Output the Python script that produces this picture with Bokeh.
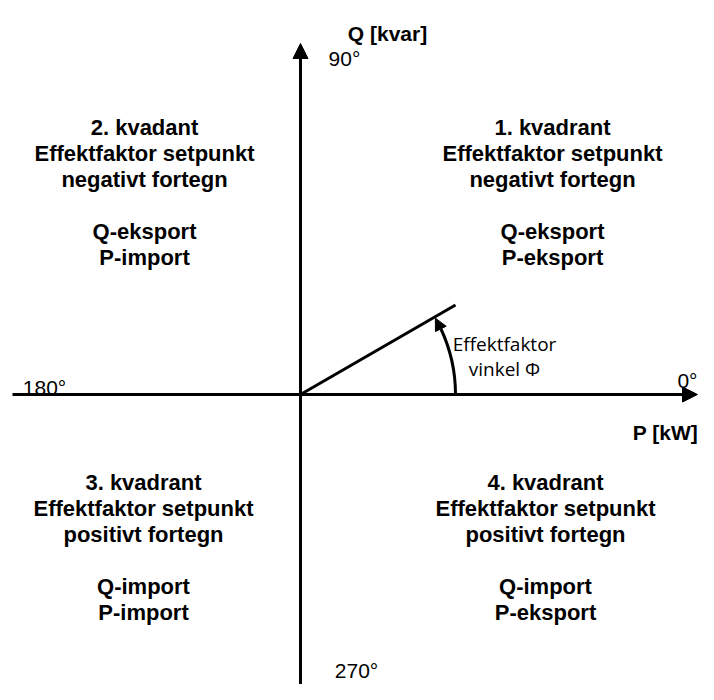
import numpy as np
from bokeh.plotting import figure
from bokeh.models import Range1d, ColumnDataSource, Arrow, NormalHead
from bokeh.core.properties import value
from bokeh.embed import file_html
from bokeh.resources import INLINE

# --- diagram content (units: px from origin, y up) ---
quadrant_names = ["1. kvadrant", "2. kvadant", "3. kvadrant", "4. kvadrant"]
quadrant_sign = ["negativt fortegn", "negativt fortegn", "positivt fortegn", "positivt fortegn"]
quadrant_q = ["Q-eksport", "Q-eksport", "Q-import", "Q-import"]
quadrant_p = ["P-eksport", "P-import", "P-import", "P-eksport"]
quadrant_cx = [252, -156, -157, 245]
quadrant_top = [267, 267, -88, -88]

angle_labels = ["0°", "90°", "180°", "270°"]
angle_x = [397, 44, -256, 56]
angle_y = [14, 336, 7, -276]
angle_align = ["right", "center", "center", "center"]

axis_labels = ["P [kW]", "Q [kvar]"]
axis_lx = [365, 87]
axis_ly = [-38, 361]

vector_len = 179.0
vector_angle_deg = 30.0
arc_radius = 155.0
arc_end_deg = 24.0
arc_tip_deg = 29.5

phi_lines = ["Effektfaktor", "vinkel Φ"]
phi_x = 204
phi_y = [51, 26]

p = figure(width=698, height=684, output_backend="svg", toolbar_location=None,
           x_range=Range1d(-300, 398), y_range=Range1d(-290, 394),
           min_border=0)
p.axis.visible = False
p.grid.visible = False
p.outline_line_color = None
p.background_fill_color = "white"

# axes with arrows
p.add_layout(Arrow(x_start=-288, y_start=0, x_end=397, y_end=0, line_width=3, line_color="black",
                   end=NormalHead(size=15, fill_color="black", line_color="black", line_width=1)))
p.add_layout(Arrow(x_start=0, y_start=-300, x_end=0, y_end=351, line_width=3, line_color="black",
                   end=NormalHead(size=15, fill_color="black", line_color="black", line_width=1)))

# power vector
a = np.deg2rad(vector_angle_deg)
p.line([0, vector_len * np.cos(a)], [0, vector_len * np.sin(a)], line_width=3, line_color="black")

# angle arc
p.arc(x=[0], y=[0], radius=arc_radius, start_angle=0, end_angle=np.deg2rad(arc_end_deg + 1),
      line_width=3, line_color="black")
e0, e1 = np.deg2rad(arc_end_deg), np.deg2rad(arc_tip_deg)
p.add_layout(Arrow(x_start=arc_radius * np.cos(e0), y_start=arc_radius * np.sin(e0),
                   x_end=arc_radius * np.cos(e1), y_end=arc_radius * np.sin(e1),
                   line_alpha=0, line_width=0,
                   end=NormalHead(size=12, fill_color="black", line_color="black", line_width=1)))

# quadrant texts
step = 26
tx, ty, tt = [], [], []
for i in range(4):
    lines = [quadrant_names[i], "Effektfaktor setpunkt", quadrant_sign[i], "", quadrant_q[i], quadrant_p[i]]
    for j, t in enumerate(lines):
        if t:
            tx.append(quadrant_cx[i]); ty.append(quadrant_top[i] - j * step); tt.append(t)
p.text(x=tx, y=ty, text=tt, text_font=value("Liberation Sans"), text_font_style="bold",
       text_font_size="22px", text_align="center", text_baseline="alphabetic", text_color="black")

# axis labels
p.text(x=axis_lx, y=axis_ly, text=axis_labels, text_font=value("Liberation Sans"),
       text_font_style="bold", text_font_size="21px", text_align="center",
       text_baseline="alphabetic", text_color="black")

# angle labels
src = ColumnDataSource(dict(x=angle_x, y=angle_y, t=angle_labels, al=angle_align))
p.text(x="x", y="y", text="t", text_align="al", source=src, text_font=value("Liberation Sans"),
       text_font_size="21px", text_baseline="alphabetic", text_color="black")

# phi label
p.text(x=[phi_x] * 2, y=phi_y, text=phi_lines, text_font=value("Open Sans"),
       text_font_size="19px", text_align="center", text_baseline="alphabetic", text_color="black")

open("out.html", "w").write(file_html(p, INLINE))
